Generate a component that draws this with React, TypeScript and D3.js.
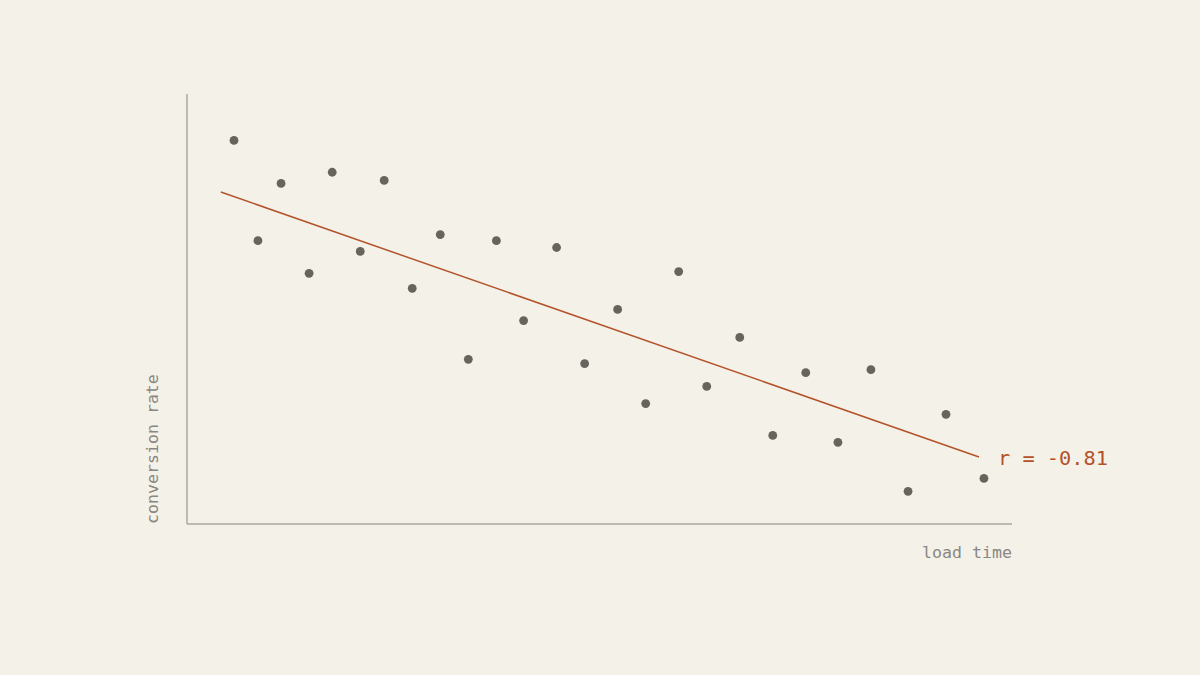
import React from 'react';
import * as d3 from 'd3';

// load time (x) vs conversion rate (y), arbitrary units
const loadTime = [0.57, 0.86, 1.14, 1.48, 1.76, 2.1, 2.39, 2.73, 3.07, 3.41, 3.75, 4.08, 4.48, 4.82, 5.22, 5.56, 5.96, 6.3, 6.7, 7.1, 7.5, 7.89, 8.29, 8.74, 9.2, 9.66];
const conversion = [8.92, 6.59, 7.92, 5.83, 8.18, 6.34, 7.99, 5.48, 6.73, 3.83, 6.59, 4.73, 6.43, 3.73, 4.99, 2.8, 5.87, 3.2, 4.34, 2.06, 3.52, 1.9, 3.59, 0.76, 2.55, 1.06];

// fitted trend line endpoints
const trendX = [0.41, 9.6];
const trendY = [7.72, 1.56];
const rLabel = 'r = -0.81';

const W = 1200;
const H = 675;
const margin = { top: 94, right: 188, bottom: 151, left: 187 };

const BG = '#f4f1e9';
const AXIS = '#aba79f';
const DOT = '#67635d';
const ACCENT = '#b4532a';
const LABEL = '#8b8781';
const MONO = '"DejaVu Sans Mono", "Liberation Mono", monospace';

export default function App() {
  const x = d3.scaleLinear().domain([0, 10]).range([margin.left, W - margin.right]);
  const y = d3.scaleLinear().domain([0, 10]).range([H - margin.bottom, margin.top]);

  const pts = loadTime.map((v, i) => [v, conversion[i]] as [number, number]);
  const line = d3.line<number>()
    .x(d => x(trendX[d]))
    .y(d => y(trendY[d]));

  const x0 = x(0);
  const y0 = y(0);

  return (
    <div style={{ position: 'fixed', left: 0, top: 0, width: W, height: H, background: BG }}>
      <svg width={W} height={H} style={{ display: 'block' }}>
        <rect width={W} height={H} fill={BG} />
        {/* axes */}
        <line x1={x0} x2={x0} y1={y(10)} y2={y0} stroke={AXIS} strokeWidth={1.5} />
        <line x1={x0} x2={x(10)} y1={y0} y2={y0} stroke={AXIS} strokeWidth={1.5} />

        {/* trend */}
        <path d={line([0, 1]) || ''} fill="none" stroke={ACCENT} strokeWidth={1.5} />

        {pts.map((p, i) => (
          <circle key={i} cx={x(p[0])} cy={y(p[1])} r={4.4} fill={DOT} />
        ))}

        <text
          x={x(trendX[1]) + 19}
          y={y(trendY[1]) + 8}
          fill={ACCENT}
          fontFamily={MONO}
          fontSize={20.3}
        >
          {rLabel}
        </text>

        <text x={x(10)} y={y0 + 34} textAnchor="end" fill={LABEL} fontFamily={MONO} fontSize={16.6}>
          load time
        </text>
        <text
          transform={`translate(${x0 - 29},${y0}) rotate(-90)`}
          textAnchor="start"
          fill={LABEL}
          fontFamily={MONO}
          fontSize={16.6}
        >
          conversion rate
        </text>
      </svg>
    </div>
  );
}
